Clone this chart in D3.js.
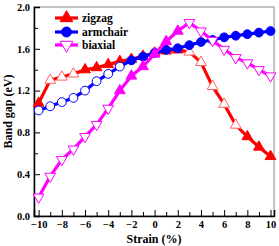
<!DOCTYPE html>
<html>
<head>
<meta charset="utf-8">
<script src="https://cdn.jsdelivr.net/npm/d3@7"></script>
<style>
  body { margin: 0; background: #fff; }
  text { font-family: "Liberation Serif", "Times New Roman", serif; font-weight: bold; }
</style>
</head>
<body>
<script>
// данные
var strain = [-10, -9, -8, -7, -6, -5, -4, -3, -2, -1, 0, 1, 2, 3, 4, 5, 6, 7, 8, 9, 10];
var zigzag = [1.08, 1.30, 1.33, 1.36, 1.40, 1.42, 1.45, 1.48, 1.50, 1.53, 1.56, 1.58, 1.59, 1.57, 1.47, 1.24, 1.07, 0.87, 0.76, 0.66, 0.57];
var armchair = [1.01, 1.05, 1.09, 1.13, 1.20, 1.29, 1.36, 1.43, 1.49, 1.525, 1.56, 1.59, 1.605, 1.635, 1.665, 1.685, 1.71, 1.725, 1.74, 1.755, 1.77];
var biaxial = [0.18, 0.38, 0.54, 0.64, 0.76, 0.875, 1.03, 1.20, 1.34, 1.43, 1.55, 1.67, 1.77, 1.85, 1.77, 1.68, 1.595, 1.515, 1.465, 1.40, 1.34];
// какие маркеры залиты (остальные — полые)
var zigzagFilled = [1, 0, 0, 0, 1, 1, 1, 1, 1, 1, 1, 1, 1, 0, 0, 0, 0, 0, 1, 1, 1];
var armchairFilled = [0, 0, 0, 0, 0, 0, 0, 0, 1, 1, 1, 1, 1, 1, 1, 1, 1, 1, 1, 1, 1];
var biaxialFilled = [0, 0, 0, 0, 0, 0, 0, 1, 1, 1, 1, 1, 1, 0, 0, 0, 0, 0, 0, 0, 0];
var xTicks = [-10, -8, -6, -4, -2, 0, 2, 4, 6, 8, 10];
var yTicks = [0.0, 0.4, 0.8, 1.2, 1.6, 2.0];

var width = 279, height = 246;
var margin = {left: 34, right: 5, top: 7, bottom: 30};

var svg = d3.select("body").append("svg")
    .attr("width", width)
    .attr("height", height);

var x = d3.scaleLinear().domain([-10.4, 10.3]).range([margin.left, width - margin.right]);
var y = d3.scaleLinear().domain([0, 2.0]).range([height - margin.bottom, margin.top]);

// рамка
svg.append("rect")
    .attr("x", x.range()[0])
    .attr("y", y.range()[1])
    .attr("width", x.range()[1] - x.range()[0])
    .attr("height", y.range()[0] - y.range()[1])
    .style("fill", "none")
    .style("stroke", "#888")
    .style("stroke-width", 1);

// оси: тики внутрь
svg.append("g")
    .attr("transform", "translate(0," + y.range()[0] + ")")
    .call(d3.axisBottom(x).tickValues(xTicks).tickSize(-6).tickPadding(5).tickFormat(d3.format("d")));
svg.append("g")
    .attr("transform", "translate(0," + y.range()[0] + ")")
    .call(d3.axisBottom(x).tickValues(d3.range(-9, 10, 2)).tickSize(-4).tickFormat(""))
    .select(".domain").remove();

svg.append("g")
    .attr("transform", "translate(" + x.range()[0] + ",0)")
    .call(d3.axisLeft(y).tickValues(yTicks).tickSize(-6).tickPadding(4).tickFormat(d3.format(".1f")));
svg.append("g")
    .attr("transform", "translate(" + x.range()[0] + ",0)")
    .call(d3.axisLeft(y).tickValues([0.2, 0.6, 1.0, 1.4, 1.8]).tickSize(-4).tickFormat(""))
    .select(".domain").remove();

svg.selectAll(".domain").style("stroke", "#000").style("stroke-width", 1.5);
svg.selectAll(".tick line").style("stroke", "#000").style("stroke-width", 1);
svg.selectAll(".tick text").style("font-size", "10.5px").style("fill", "#000")
    .style("font-family", "Liberation Serif, serif").style("font-weight", "bold");

// подписи осей
svg.append("text")
    .attr("x", (x.range()[0] + x.range()[1]) / 2)
    .attr("y", 243)
    .attr("text-anchor", "middle")
    .style("font-size", "12px")
    .text("Strain (%)");

svg.append("text")
    .attr("transform", "translate(12," + (y.range()[0] + y.range()[1]) / 2 + ") rotate(-90)")
    .attr("text-anchor", "middle")
    .style("font-size", "12px")
    .text("Band gap (eV)");

var tri = d3.symbol().type(d3.symbolTriangle).size(50);

function drawSeries(vals, filled, color, openStroke, shape, down) {
    var pts = strain.map(function(s, i) { return {s: s, v: vals[i], f: filled[i]}; });
    var line = d3.line().x(function(d) { return x(d.s); }).y(function(d) { return y(d.v); });
    svg.append("path")
        .datum(pts)
        .attr("d", line)
        .style("fill", "none")
        .style("stroke", color)
        .style("stroke-width", 3.2);
    var g = svg.append("g");
    pts.forEach(function(d) {
        var m;
        if (shape === "circle") {
            m = g.append("circle").attr("cx", x(d.s)).attr("cy", y(d.v)).attr("r", 4.4);
        } else {
            var rot = (down && !d.f) ? 180 : 0;
            m = g.append("path").attr("d", tri)
                .attr("transform", "translate(" + x(d.s) + "," + y(d.v) + ") rotate(" + rot + ")");
        }
        if (d.f) {
            m.style("fill", color).style("stroke", color).style("stroke-width", 1);
        } else {
            m.style("fill", "#fff").style("stroke", openStroke).style("stroke-width", 1);
        }
    });
}

drawSeries(zigzag, zigzagFilled, "#ff0000", "#ff6060", "triangle", false);
drawSeries(armchair, armchairFilled, "#0000ff", "#0000ff", "circle", false);
drawSeries(biaxial, biaxialFilled, "#ff00ff", "#ff00ff", "triangle", true);

// легенда
var legend = [
    {name: "zigzag", color: "#ff0000", shape: "triangle", rot: 0},
    {name: "armchair", color: "#0000ff", shape: "circle", rot: 0},
    {name: "biaxial", color: "#ff00ff", shape: "triangle", rot: 180, open: true}
];
var legendY = [18, 32, 45];
legend.forEach(function(l, i) {
    var ly = legendY[i];
    svg.append("line")
        .attr("x1", 55).attr("x2", 78).attr("y1", ly).attr("y2", ly)
        .style("stroke", l.color).style("stroke-width", 3.2);
    var m;
    if (l.shape === "circle") {
        m = svg.append("circle").attr("cx", 66.5).attr("cy", ly).attr("r", 5);
    } else {
        m = svg.append("path").attr("d", d3.symbol().type(d3.symbolTriangle).size(70))
            .attr("transform", "translate(66.5," + ly + ") rotate(" + l.rot + ")");
    }
    if (l.open) {
        m.style("fill", "#fff").style("stroke", l.color).style("stroke-width", 1);
    } else {
        m.style("fill", l.color).style("stroke", l.color);
    }
    svg.append("text")
        .attr("x", 82).attr("y", ly + 4)
        .style("font-size", "11.5px")
        .text(l.name);
});
</script>
</body>
</html>
